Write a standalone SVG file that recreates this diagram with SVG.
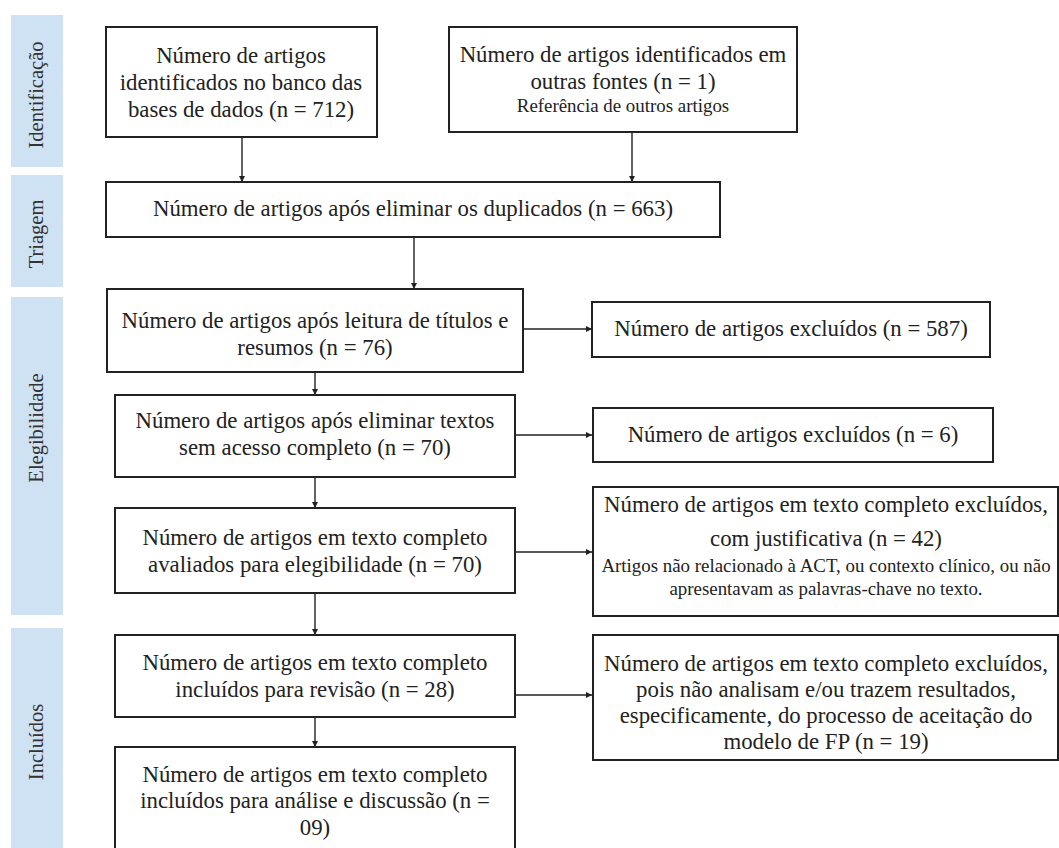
<svg xmlns="http://www.w3.org/2000/svg" width="1059" height="848" viewBox="0 0 1059 848">
<style>
.lbl{fill:#cfe2f3}
.lt{font-family:'Liberation Serif',serif;font-size:20.5px;fill:#333;text-anchor:middle}
.box{fill:#fff;stroke:#222;stroke-width:2}
.t{font-family:'Liberation Serif',serif;font-size:22.8px;fill:#222;text-anchor:middle}
.s{font-family:'Liberation Serif',serif;font-size:18.9px;fill:#222;text-anchor:middle}
.c{stroke:#222;stroke-width:1.4;fill:none;marker-end:url(#ah)}
</style>
<defs>
<marker id="ah" viewBox="0 0 10 10" refX="10" refY="5" markerWidth="6" markerHeight="6" markerUnits="userSpaceOnUse" orient="auto">
<path d="M0,0 L10,5 L0,10 z" fill="#222"/>
</marker>
</defs>
<rect width="1059" height="848" fill="#fff"/>
<g id="stages">
<g id="stage-identificacao"><rect class="lbl" x="11" y="15" width="52" height="152"/><text class="lt" transform="translate(43,95) rotate(-90)">Identificação</text></g>
<g id="stage-triagem"><rect class="lbl" x="11" y="175" width="52" height="112"/><text class="lt" transform="translate(43,234) rotate(-90)">Triagem</text></g>
<g id="stage-elegibilidade"><rect class="lbl" x="11" y="297" width="52" height="318"/><text class="lt" transform="translate(43,428) rotate(-90)">Elegibilidade</text></g>
<g id="stage-incluidos"><rect class="lbl" x="11" y="628" width="52" height="230"/><text class="lt" transform="translate(43,742) rotate(-90)">Incluídos</text></g>
</g>
<g id="connectors">
<line class="c" x1="242" y1="137" x2="242" y2="182"/>
<line class="c" x1="632" y1="132" x2="632" y2="182"/>
<line class="c" x1="414" y1="237" x2="414" y2="289"/>
<line class="c" x1="523" y1="329" x2="592" y2="329"/>
<line class="c" x1="315" y1="372" x2="315" y2="395"/>
<line class="c" x1="515" y1="435" x2="592" y2="435"/>
<line class="c" x1="315" y1="477" x2="315" y2="508"/>
<line class="c" x1="515" y1="552" x2="592" y2="552"/>
<line class="c" x1="315" y1="593" x2="315" y2="635"/>
<line class="c" x1="515" y1="695" x2="592" y2="695"/>
<line class="c" x1="315" y1="717" x2="315" y2="747"/>
</g>
<g id="n1"><rect class="box" x="106" y="27" width="271" height="110"/>
<text class="t" x="241" y="63">Número de artigos</text>
<text class="t" x="241" y="90">identificados no banco das</text>
<text class="t" x="241" y="117">bases de dados (n = 712)</text></g>
<g id="n2"><rect class="box" x="449" y="27" width="348" height="105"/>
<text class="t" x="623" y="62">Número de artigos identificados em</text>
<text class="t" x="623" y="89">outras fontes (n = 1)</text>
<text class="s" x="623" y="112">Referência de outros artigos</text></g>
<g id="n3"><rect class="box" x="106" y="182" width="614" height="55"/>
<text class="t" x="413" y="216">Número de artigos após eliminar os duplicados (n = 663)</text></g>
<g id="n4"><rect class="box" x="107" y="289" width="416" height="83"/>
<text class="t" x="315" y="328">Número de artigos após leitura de títulos e</text>
<text class="t" x="315" y="355">resumos (n = 76)</text></g>
<g id="n5"><rect class="box" x="592" y="302" width="398" height="55"/>
<text class="t" x="791" y="336">Número de artigos excluídos (n = 587)</text></g>
<g id="n6"><rect class="box" x="115" y="395" width="400" height="82"/>
<text class="t" x="315" y="428">Número de artigos após eliminar textos</text>
<text class="t" x="315" y="455">sem acesso completo (n = 70)</text></g>
<g id="n7"><rect class="box" x="593" y="408" width="400" height="54"/>
<text class="t" x="793" y="442">Número de artigos excluídos (n = 6)</text></g>
<g id="n8"><rect class="box" x="115" y="508" width="400" height="85"/>
<text class="t" x="315" y="545">Número de artigos em texto completo</text>
<text class="t" x="315" y="572">avaliados para elegibilidade (n = 70)</text></g>
<g id="n9"><rect class="box" x="593" y="487" width="465" height="129"/>
<text class="t" x="826" y="512">Número de artigos em texto completo excluídos,</text>
<text class="t" x="826" y="546">com justificativa (n = 42)</text>
<text class="s" x="826" y="572">Artigos não relacionado à ACT, ou contexto clínico, ou não</text>
<text class="s" x="826" y="595">apresentavam as palavras-chave no texto.</text></g>
<g id="n10"><rect class="box" x="115" y="635" width="400" height="82"/>
<text class="t" x="315" y="670">Número de artigos em texto completo</text>
<text class="t" x="315" y="697">incluídos para revisão (n = 28)</text></g>
<g id="n11"><rect class="box" x="593" y="635" width="465" height="125"/>
<text class="t" x="826" y="671">Número de artigos em texto completo excluídos,</text>
<text class="t" x="826" y="697">pois não analisam e/ou trazem resultados,</text>
<text class="t" x="826" y="723">especificamente, do processo de aceitação do</text>
<text class="t" x="826" y="749">modelo de FP (n = 19)</text></g>
<g id="n12"><rect class="box" x="115" y="747" width="400" height="110"/>
<text class="t" x="315" y="782">Número de artigos em texto completo</text>
<text class="t" x="315" y="808">incluídos para análise e discussão (n =</text>
<text class="t" x="315" y="835">09)</text></g>
</svg>
